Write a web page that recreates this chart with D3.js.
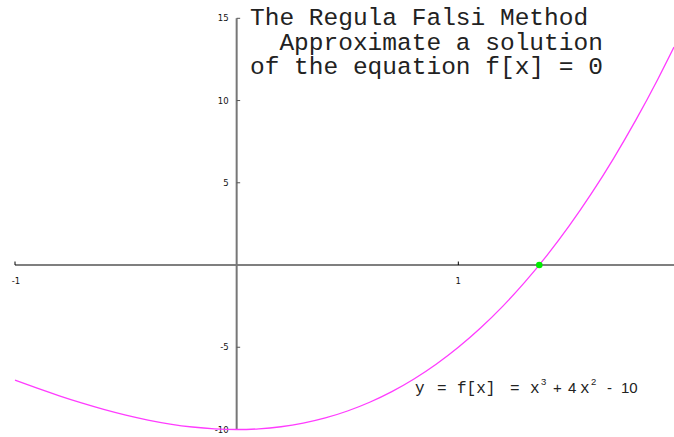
<!DOCTYPE html>
<html>
<head>
<meta charset="utf-8">
<script src="https://cdn.jsdelivr.net/npm/d3@7"></script>
<style>
  html, body { margin: 0; padding: 0; background: #fff; }
  svg { display: block; }
  text { white-space: pre; }
</style>
</head>
<body>
<svg id="chart" width="674" height="437"></svg>
<script>
// Sample points of f(x) = x^3 + 4x^2 - 10 on the plotted interval
const xs = [-1.0, -0.9, -0.8, -0.7, -0.6, -0.5, -0.4, -0.3, -0.2, -0.1, 0.0,
            0.1, 0.2, 0.3, 0.4, 0.5, 0.6, 0.7, 0.8, 0.9, 1.0,
            1.1, 1.2, 1.3, 1.4, 1.5, 1.6, 1.7, 1.8, 1.9, 1.973];
const ys = [-7.000, -7.489, -7.952, -8.383, -8.776, -9.125, -9.424, -9.667, -9.848, -9.961, -10.000,
            -9.959, -9.832, -9.613, -9.296, -8.875, -8.344, -7.697, -6.928, -6.031, -5.000,
            -3.829, -2.512, -1.043, 0.584, 2.375, 4.336, 6.473, 8.792, 11.299, 13.251];

// Root found by the regula falsi iteration
const rootX = [1.36523];
const rootY = [0];

const xTicks = [-1, 1];
const xTickLabels = ["-1", "1"];
const yTicks = [15, 10, 5, -5, -10];
const yTickLabels = ["15", "10", "5", "-5", "-10"];

const titleLines = ["The Regula Falsi Method", "  Approximate a solution", "of the equation f[x] = 0"];

const svg = d3.select("#chart");

const x = d3.scaleLinear().domain([-1, 1.973]).range([15, 674]);
const y = d3.scaleLinear().domain([-10, 15]).range([429.5, 18.3]);

// Horizontal axis through y = 0
const xAxis = svg.append("g").attr("transform", `translate(0,${y(0)})`);
xAxis.append("line")
  .attr("x1", x(-1)).attr("x2", 674)
  .attr("stroke", "#000").attr("stroke-width", 1.2);
xAxis.selectAll("line.tick").data(xTicks).join("line")
  .attr("class", "tick")
  .attr("x1", d => x(d)).attr("x2", d => x(d))
  .attr("y1", 0).attr("y2", -3.5)
  .attr("stroke", "#000").attr("stroke-width", 1);
xAxis.selectAll("text").data(xTicks).join("text")
  .attr("x", d => x(d) + (d < 0 ? 1 : 0)).attr("y", 19)
  .attr("text-anchor", "middle")
  .attr("font-family", "DejaVu Sans, sans-serif")
  .attr("font-size", 8.5)
  .attr("fill", "#111")
  .text((d, i) => xTickLabels[i]);

// Vertical axis through x = 0
const yAxis = svg.append("g").attr("transform", `translate(${x(0)},0)`);
yAxis.append("line")
  .attr("y1", y(15)).attr("y2", y(-10))
  .attr("stroke", "#777").attr("stroke-width", 2);
yAxis.selectAll("line.tick").data(yTicks).join("line")
  .attr("class", "tick")
  .attr("x1", 0).attr("x2", 3.5)
  .attr("y1", d => y(d)).attr("y2", d => y(d))
  .attr("stroke", "#555").attr("stroke-width", 1);
yAxis.selectAll("text").data(yTicks).join("text")
  .attr("x", -8).attr("y", d => y(d) + 3)
  .attr("text-anchor", "end")
  .attr("font-family", "DejaVu Sans, sans-serif")
  .attr("font-size", 8.5)
  .attr("fill", "#111")
  .text((d, i) => yTickLabels[i]);

// The function curve
const pts = xs.map((v, i) => [v, ys[i]]);
svg.append("path")
  .datum(pts)
  .attr("fill", "none")
  .attr("stroke", "#ff3cff")
  .attr("stroke-width", 1.3)
  .attr("d", d3.line().x(d => x(d[0])).y(d => y(d[1])).curve(d3.curveMonotoneX));

// Root marker
svg.selectAll("circle.root").data(rootX).join("circle")
  .attr("class", "root")
  .attr("cx", d => x(d)).attr("cy", (d, i) => y(rootY[i]))
  .attr("r", 3.3)
  .attr("fill", "#00ee00");

// Title block
svg.append("g").selectAll("text").data(titleLines).join("text")
  .attr("x", 250).attr("y", (d, i) => 25 + i * 24.5)
  .attr("font-family", "Liberation Mono, Courier New, monospace")
  .attr("font-size", 24.5)
  .attr("fill", "#222")
  .text(d => d);

// Equation label
const eqParts = [
  { t: "y", x: 415, f: "mono" },
  { t: "=", x: 437, f: "mono" },
  { t: "f[x]", x: 457, f: "mono" },
  { t: "=", x: 510, f: "mono" },
  { t: "x", x: 530, f: "mono" },
  { t: "3", x: 541, f: "sup" },
  { t: "+", x: 553, f: "sans" },
  { t: "4", x: 568, f: "sans" },
  { t: "x", x: 580, f: "mono" },
  { t: "2", x: 591, f: "sup" },
  { t: "-", x: 607, f: "sans" },
  { t: "10", x: 621, f: "sans" }
];
svg.append("g").selectAll("text").data(eqParts).join("text")
  .attr("x", d => d.x)
  .attr("y", d => d.f === "sup" ? 385 : 393)
  .attr("font-family", d => d.f === "mono" ? "Liberation Mono, Courier New, monospace" : "Liberation Sans, Arial, sans-serif")
  .attr("font-size", d => d.f === "sup" ? 9.5 : (d.f === "mono" ? 16 : 15))
  .attr("fill", "#222")
  .text(d => d.t);
</script>
</body>
</html>
